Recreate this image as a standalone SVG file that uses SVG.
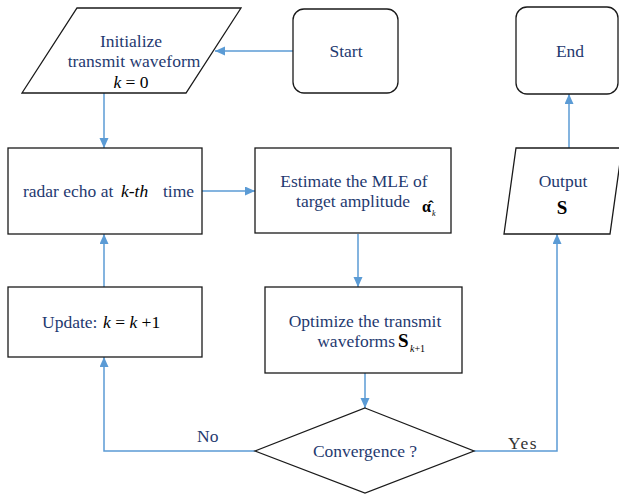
<svg xmlns="http://www.w3.org/2000/svg" width="619" height="494" viewBox="0 0 619 494">
<style>
.box{fill:#fff;stroke:#1a1a1a;stroke-width:1.3}
.t{font-size:17.5px;fill:#1f3a70}
.m{font-size:17.5px;fill:#000}
.i{font-style:italic}
.b{font-weight:bold}
.c{fill:none;stroke:#5b9bd5;stroke-width:1.5}
</style>
<defs>
<marker id="ah" markerUnits="userSpaceOnUse" markerWidth="11" markerHeight="10" refX="10" refY="4.5" orient="auto">
<path d="M0,0 L10,4.5 L0,9 z" fill="#5b9bd5"/>
</marker>
</defs>
<rect width="619" height="494" fill="#fff"/>
<g id="connectors">
<line class="c" x1="293" y1="51" x2="215" y2="51" marker-end="url(#ah)"/>
<line class="c" x1="104" y1="93" x2="104" y2="148" marker-end="url(#ah)"/>
<line class="c" x1="202" y1="191" x2="255" y2="191" marker-end="url(#ah)"/>
<line class="c" x1="358" y1="234" x2="358" y2="287" marker-end="url(#ah)"/>
<line class="c" x1="365" y1="373" x2="365" y2="408" marker-end="url(#ah)"/>
<polyline class="c" points="255,451 104,451 104,357" marker-end="url(#ah)"/>
<line class="c" x1="104" y1="287" x2="104" y2="234" marker-end="url(#ah)"/>
<polyline class="c" points="474,451 557,451 557,234" marker-end="url(#ah)"/>
<line class="c" x1="569" y1="148" x2="569" y2="94" marker-end="url(#ah)"/>
<text x="197" y="442" class="t" style="font-family:'Liberation Serif'">No</text>
<text x="508" y="449" style="font-family:'Liberation Serif';font-size:17.5px;fill:#333;letter-spacing:1.5px">Yes</text>
</g>
<g id="init">
<polygon class="box" points="77,8 241,8 186,93 22,93"/>
<text class="t" x="131" y="47" text-anchor="middle" style="font-family:'Liberation Serif'">Initialize</text>
<text class="t" x="134" y="67" text-anchor="middle" style="font-family:'Liberation Serif'">transmit waveform</text>
<text class="m" x="131" y="88" text-anchor="middle" style="font-family:'Liberation Serif'"><tspan class="i">k</tspan> = 0</text>
</g>
<g id="start">
<rect class="box" x="293" y="9" width="105" height="84" rx="11"/>
<text class="t" x="346" y="57" text-anchor="middle" style="font-family:'Liberation Serif'">Start</text>
</g>
<g id="end">
<rect class="box" x="516" y="7" width="102" height="87" rx="11"/>
<text class="t" x="570" y="57" text-anchor="middle" style="font-family:'Liberation Serif'">End</text>
</g>
<g id="radar">
<rect class="box" x="8" y="148" width="194" height="86"/>
<text class="t" x="23" y="197" style="font-family:'Liberation Serif'">radar echo at</text>
<text class="m i" x="121" y="197" style="font-family:'Liberation Serif'">k-th</text>
<text class="t" x="163" y="197" style="font-family:'Liberation Serif'">time</text>
</g>
<g id="estimate">
<rect class="box" x="255" y="148" width="196" height="85"/>
<text class="t" x="354" y="187" text-anchor="middle" style="font-family:'Liberation Serif'">Estimate the MLE of</text>
<text class="t" x="353" y="207" text-anchor="middle" style="font-family:'Liberation Serif'">target amplitude</text>
<text class="m b" x="422" y="212" style="font-family:'Liberation Serif';font-size:16px">α̂</text>
<text class="m i" x="432" y="216" style="font-family:'Liberation Serif';font-size:8px">k</text>
</g>
<g id="optimize">
<rect class="box" x="265" y="287" width="197" height="86"/>
<text class="t" x="365" y="327" text-anchor="middle" style="font-family:'Liberation Serif'">Optimize the transmit</text>
<text class="t" x="395" y="347" text-anchor="end" style="font-family:'Liberation Serif'">waveforms</text>
<text class="m b" x="398" y="347" style="font-family:'Liberation Serif';font-size:19px">S</text>
<text class="m" x="410" y="352" style="font-family:'Liberation Serif';font-size:10px"><tspan class="i">k</tspan>+1</text>
</g>
<g id="update">
<rect class="box" x="8" y="287" width="194" height="70"/>
<text class="t" x="42" y="328" style="font-family:'Liberation Serif'">Update:</text>
<text class="m" x="103" y="328" style="font-family:'Liberation Serif'"><tspan class="i">k</tspan> = <tspan class="i">k</tspan> +1</text>
</g>
<g id="convergence">
<polygon class="box" points="365,408 474,451 365,493 255,451"/>
<text class="t" x="365" y="457" text-anchor="middle" style="font-family:'Liberation Serif'">Convergence ?</text>
</g>
<g id="output">
<polygon class="box" points="516,148 622,148 610,234 504,234"/>
<text class="t" x="563" y="187" text-anchor="middle" style="font-family:'Liberation Serif'">Output</text>
<text class="m b" x="562" y="214" text-anchor="middle" style="font-family:'Liberation Serif';font-size:19px">S</text>
</g>
</svg>
